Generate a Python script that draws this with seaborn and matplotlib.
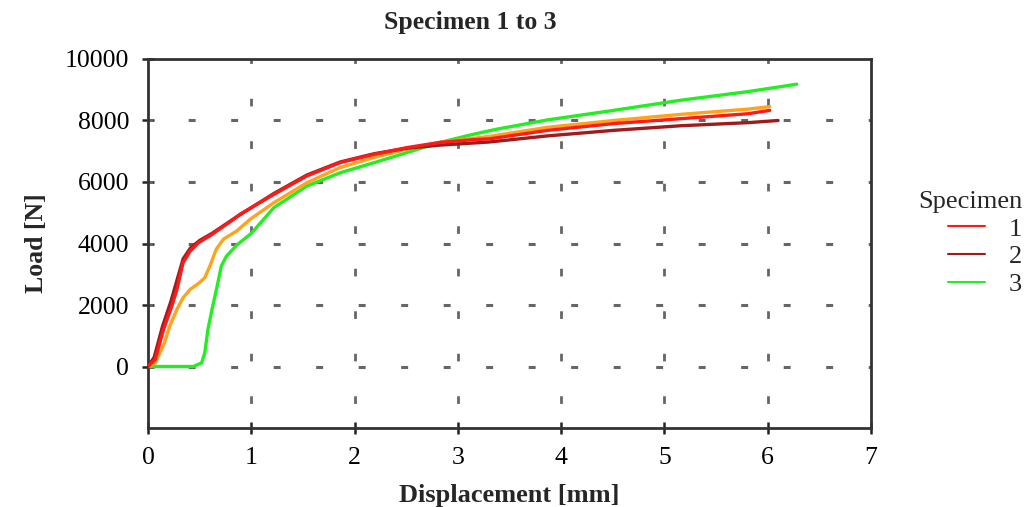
import matplotlib
matplotlib.use("Agg")
import matplotlib.pyplot as plt
import seaborn as sns
import numpy as np
from matplotlib.ticker import MultipleLocator, FixedLocator
from matplotlib.lines import Line2D

sns.set_theme(style="white")
plt.rcParams['font.family'] = ['Liberation Serif', 'DejaVu Serif']
plt.rcParams['lines.scale_dashes'] = False

# ---- data ----
s1_x = [0, 0.07, 0.15, 0.23, 0.28, 0.34, 0.41, 0.49, 0.60, 0.83, 0.89, 1.22, 1.54, 1.86,
        2.19, 2.51, 2.83, 3.16, 3.30, 3.87, 4.51, 5.16, 5.81, 6.02]
s1_y = [0, 230, 1200, 1960, 2500, 3380, 3760, 4030, 4250, 4790, 4950, 5600, 6200, 6630,
        6900, 7120, 7290, 7380, 7400, 7680, 7900, 8060, 8220, 8330]

s2_x = [0, 0.06, 0.14, 0.22, 0.28, 0.34, 0.41, 0.50, 0.62, 0.85, 1.22, 1.54, 1.86, 2.19,
        2.51, 2.83, 3.30, 3.87, 4.51, 5.16, 5.81, 6.10]
s2_y = [0, 300, 1300, 2100, 2800, 3500, 3850, 4100, 4330, 4850, 5630, 6230, 6650, 6920,
        7100, 7200, 7300, 7500, 7680, 7830, 7930, 8000]

s3_x = [0, 0.44, 0.52, 0.55, 0.58, 0.62, 0.67, 0.71, 0.76, 0.86, 1.00, 1.22, 1.54, 1.86,
        2.19, 2.51, 2.83, 3.16, 3.38, 3.87, 4.51, 5.16, 5.81, 6.28]
s3_y = [0, 0, 120, 450, 1200, 1860, 2620, 3270, 3590, 3950, 4330, 5170, 5870, 6300,
        6630, 6960, 7290, 7560, 7720, 8020, 8330, 8660, 8940, 9180]

# unlabelled extra curve (orange)
s4_x = [0, 0.07, 0.16, 0.21, 0.28, 0.34, 0.41, 0.50, 0.55, 0.60, 0.66, 0.73, 0.86, 0.99,
        1.22, 1.54, 1.86, 2.19, 2.51, 2.83, 3.30, 3.87, 4.51, 5.16, 5.81, 6.02]
s4_y = [0, 120, 780, 1310, 1860, 2240, 2510, 2730, 2890, 3270, 3810, 4140, 4410, 4790,
        5330, 5980, 6470, 6800, 7070, 7290, 7480, 7780, 8000, 8200, 8370, 8450]

labels = ["1", "2", "3"]
colors = ["#ff1a1a", "#a01c1c", "#22ee22"]
orange = "#ffa31a"

fig = plt.figure(figsize=(10.25, 5.07), dpi=100)
ax = fig.add_axes([148/1025, 1-428/507, (871-148)/1025, (428-59)/507])

# dashed "grid"
for gy in [0, 2000, 4000, 6000, 8000]:
    ax.axhline(gy, color="#666666", lw=2.2, linestyle=(1.66, (5.0, 25.6)), zorder=1)
for gx in [1, 2, 3, 4, 5, 6]:
    ax.axvline(gx, color="#666666", lw=2.0, linestyle=(12.9, (5.5, 25.1)), zorder=1)

sns.lineplot(x=s3_x, y=s3_y, ax=ax, color=colors[2], lw=2.4, sort=False, label="_a", zorder=3)
sns.lineplot(x=s4_x, y=s4_y, ax=ax, color=orange, lw=2.4, sort=False, label="_b", zorder=3)
sns.lineplot(x=s2_x, y=s2_y, ax=ax, color=colors[1], lw=2.4, sort=False, label="_c", zorder=4)
sns.lineplot(x=s1_x, y=s1_y, ax=ax, color=colors[0], lw=2.4, sort=False, label="_d", zorder=4)

ax.set_xlim(0, 7)
ax.set_ylim(-2000, 10000)
ax.xaxis.set_major_locator(MultipleLocator(1))
ax.xaxis.set_minor_locator(MultipleLocator(0.5))
ax.yaxis.set_major_locator(FixedLocator([0, 2000, 4000, 6000, 8000, 10000]))
ax.yaxis.set_minor_locator(MultipleLocator(1000))
ax.tick_params(axis="both", which="both", direction="inout", length=9, width=1.8,
               color="#222222", labelsize=18.5, labelcolor="black")
ax.tick_params(axis="y", which="major", pad=9)
ax.tick_params(axis="x", which="major", pad=9)
ax.tick_params(left=True, bottom=True, top=False, right=False)
for sp in ax.spines.values():
    sp.set_linewidth(2.0)
    sp.set_color("#333333")
    sp.set_visible(True)

ax.set_xlabel("Displacement [mm]", fontsize=19, fontweight="bold", labelpad=11)
ax.set_ylabel("Load [N]", fontsize=18.5, fontweight="bold", labelpad=12)
ax.set_facecolor("white")
fig.patch.set_facecolor("white")

fig.text(470/1025, 1-22/507, "Specimen 1 to 3", ha="center", va="center",
         fontsize=18.5, fontweight="bold")

handles = [Line2D([], [], color=c, lw=1.5) for c in colors]
fig.legend(handles, labels, title="Specimen", loc="upper right",
           bbox_to_anchor=(1022/1025, 1-191/507), frameon=False, fontsize=19,
           title_fontsize=19, handlelength=1.4, handletextpad=0.9, labelspacing=0.16,
           alignment="right", borderaxespad=0, borderpad=0)

fig.savefig("out.png", dpi=100, facecolor="white")
